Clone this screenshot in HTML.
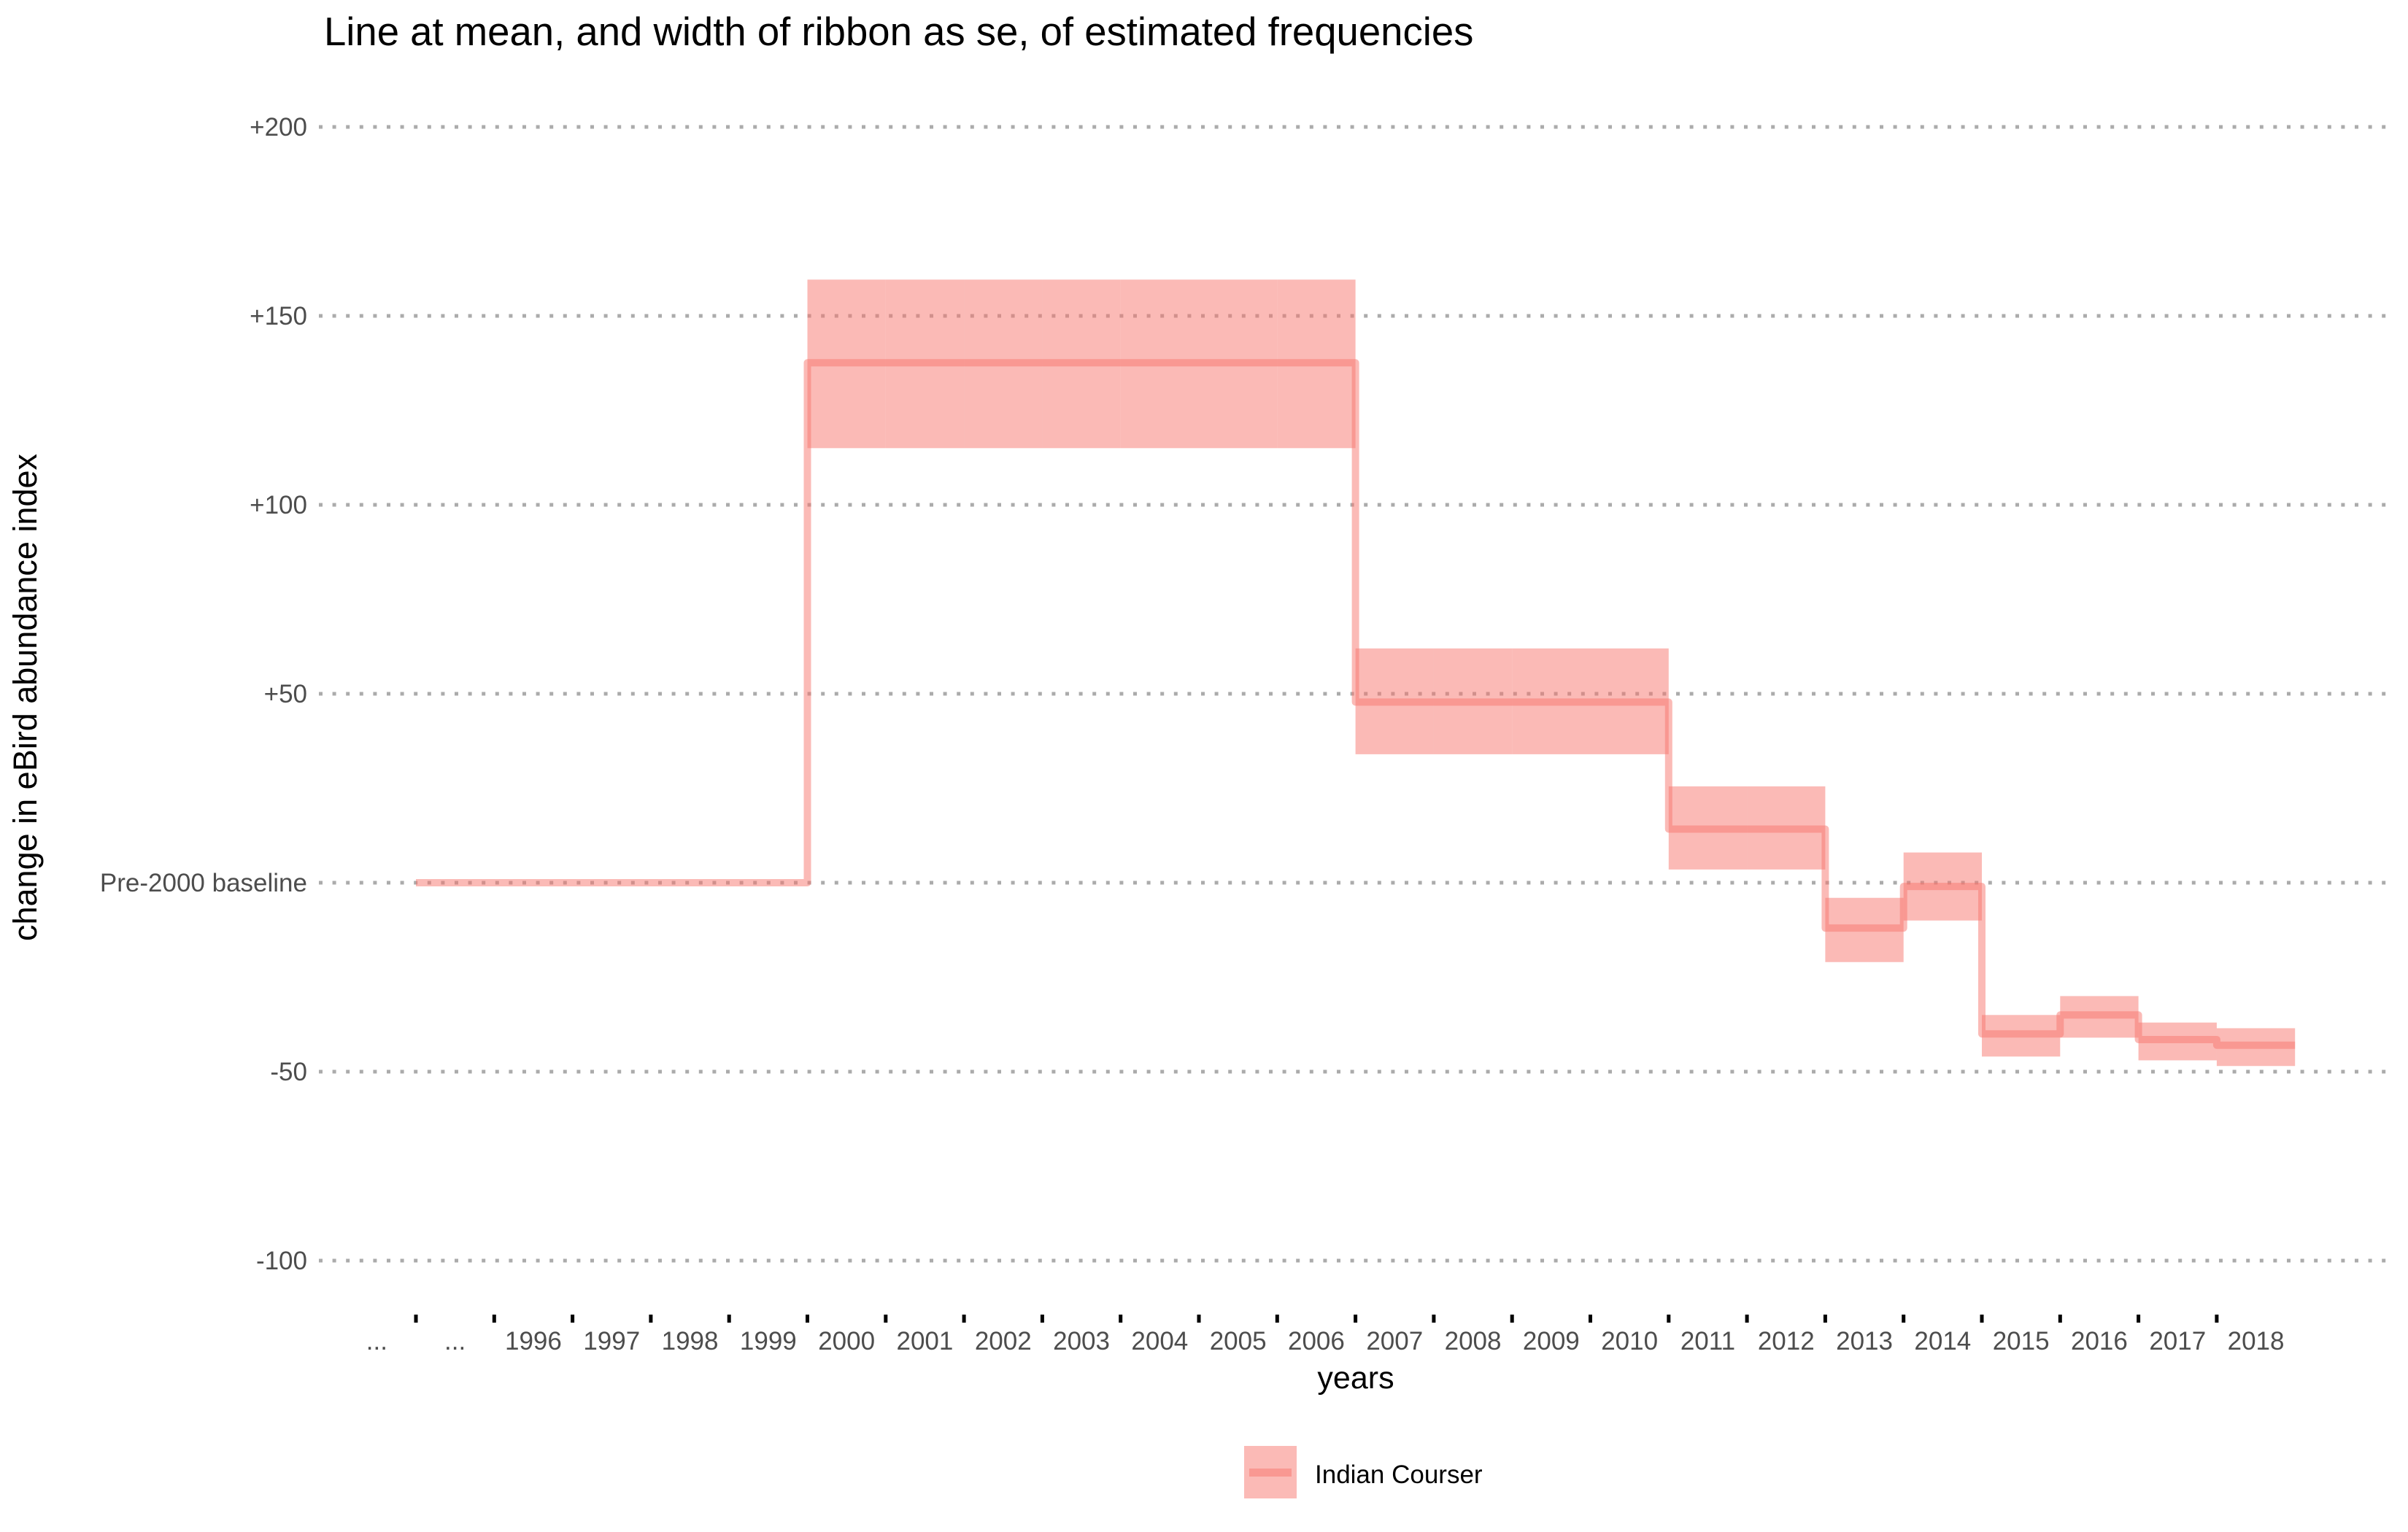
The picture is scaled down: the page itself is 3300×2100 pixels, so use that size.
<!DOCTYPE html>
<html><head><meta charset="utf-8"><style>
html,body{margin:0;padding:0;background:#fff;}
svg{display:block;font-family:"Liberation Sans",Arial,sans-serif;}
</style></head><body>
<svg id="chart" width="3300" height="2100" viewBox="0 0 3300 2100" xmlns="http://www.w3.org/2000/svg">
<text x="444" y="62" font-size="54.5" fill="#000">Line at mean, and width of ribbon as se, of estimated frequencies</text>
<g id="grid"></g>
<g id="ylabels"></g>
<g id="ribbons"></g>
<g id="lines"></g>
<g id="xaxis"></g>
<text x="1858" y="1903" font-size="43" text-anchor="middle" fill="#000">years</text>
<text transform="translate(50,956) rotate(-90)" font-size="45" text-anchor="middle" fill="#000">change in eBird abundance index</text>
<g>
<rect x="1705" y="1982" width="72" height="72" fill="#F8766D" fill-opacity="0.5"></rect>
<rect x="1712" y="2013" width="58" height="11" fill="#F8766D" fill-opacity="0.5"></rect>
<text x="1802" y="2033" font-size="35" fill="#000">Indian Courser</text>
</g>
</svg>
<script>
const xLabels = ["...", "...", "1996", "1997", "1998", "1999", "2000", "2001", "2002", "2003", "2004", "2005", "2006", "2007", "2008", "2009", "2010", "2011", "2012", "2013", "2014", "2015", "2016", "2017", "2018"];
const yTicks = [-100, -50, 0, 50, 100, 150, 200];
const yTickLabels = ["-100", "-50", "Pre-2000 baseline", "+50", "+100", "+150", "+200"];
const years = [2000, 2001, 2002, 2003, 2004, 2005, 2006, 2007, 2008, 2009, 2010, 2011, 2012, 2013, 2014, 2015, 2016, 2017, 2018];
const meanVals = [137.6, 137.6, 137.6, 137.6, 137.6, 137.6, 137.6, 47.8, 47.8, 47.8, 47.8, 14.2, 14.2, -12, -1, -40, -35, -41.5, -43];
const lowVals = [115, 115, 115, 115, 115, 115, 115, 34, 34, 34, 34, 3.5, 3.5, -21, -10, -46, -41, -47, -48.5];
const highVals = [159.6, 159.6, 159.6, 159.6, 159.6, 159.6, 159.6, 62, 62, 62, 62, 25.5, 25.5, -4, 8, -35, -30, -37, -38.5];
const baselineVal = 0;

const NS = "http://www.w3.org/2000/svg";
const X0 = 570, STEP = 107.3;
function xTick(k) { return X0 + k * STEP; }
function xLabel(i) { return X0 + (i - 0.5) * STEP; }
function yearIndex(y) { return y - 1994; }
function yScale(v) { return 1210 - v * 5.18; }
function mk(tag, attrs, parent) {
  const e = document.createElementNS(NS, tag);
  for (const k in attrs) e.setAttribute(k, attrs[k]);
  parent.appendChild(e);
  return e;
}
const grid = document.getElementById("grid");
const yl = document.getElementById("ylabels");
yTicks.forEach((v, i) => {
  const l = mk("line", {x1: 437, x2: 3280, y1: yScale(v), y2: yScale(v), stroke: "#ababab", "stroke-width": 5, "stroke-dasharray": "5 13.6"}, grid);
  
  
  const t = mk("text", {x: 421, y: yScale(v) + 12, "font-size": 35, fill: "#4d4d4d", "text-anchor": "end"}, yl);
  t.textContent = yTickLabels[i];
  
  
});
const xa = document.getElementById("xaxis");
for (let k = 0; k < xLabels.length - 1; k++) {
  const tk = mk("line", {x1: xTick(k), x2: xTick(k), y1: 1802, y2: 1813, stroke: "#000", "stroke-width": 5}, xa);
  
  
}
xLabels.forEach((s, i) => {
  const t = mk("text", {x: xLabel(i), y: 1850, "font-size": 35, fill: "#4d4d4d", "text-anchor": "middle"}, xa);
  t.textContent = s;
  
  
});
const rib = document.getElementById("ribbons");
years.forEach((y, j) => {
  const i = yearIndex(y);
  const r = mk("rect", {x: xTick(i - 1), width: STEP, y: yScale(highVals[j]), height: yScale(lowVals[j]) - yScale(highVals[j]), fill: "#F8766D", "fill-opacity": 0.5}, rib);
  
  
});
let d = "M" + xTick(0) + "," + yScale(baselineVal) + " H" + xTick(yearIndex(years[0]) - 1);
years.forEach((y, j) => {
  const i = yearIndex(y);
  d += " V" + yScale(meanVals[j]) + " H" + xTick(i);
});
const p = mk("path", {d: d, fill: "none", stroke: "#F8766D", "stroke-opacity": 0.5, "stroke-width": 10, "stroke-linejoin": "round"}, document.getElementById("lines"));


</script>
</body></html>
